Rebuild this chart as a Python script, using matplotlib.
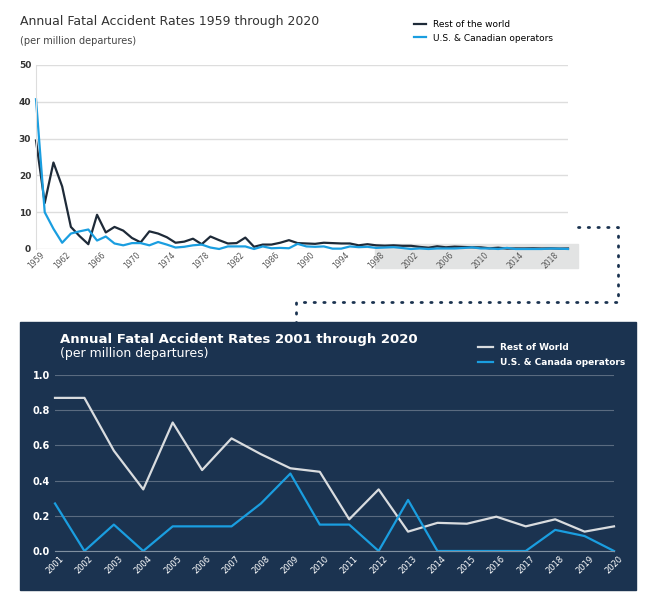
import matplotlib
matplotlib.use("Agg")
import matplotlib.pyplot as plt
from matplotlib.patches import Rectangle
from matplotlib.lines import Line2D

years_all = list(range(1959, 2021))
row_early = [29.5, 12.5, 23.5, 17, 6, 3.5, 1.3, 9.3, 4.5, 6, 5, 3, 1.8, 4.8, 4.2, 3.2, 1.7, 2, 2.8, 1.3,
             3.4, 2.4, 1.5, 1.6, 3.1, 0.6, 1.2, 1.2, 1.7, 2.4, 1.6, 1.5, 1.4, 1.7, 1.6, 1.5, 1.5, 1.0,
             1.3, 1.0, 0.9, 1.0]
us_early = [40.7, 10, 5.5, 1.7, 4.2, 4.8, 5.3, 2.3, 3.4, 1.5, 1.0, 1.6, 1.6, 1.0, 1.9, 1.2, 0.4, 0.6,
            1.0, 1.2, 0.4, 0.0, 0.7, 0.7, 0.7, 0.0, 0.7, 0.2, 0.3, 0.2, 1.4, 0.7, 0.6, 0.7, 0.1, 0.1,
            0.7, 0.5, 0.6, 0.3, 0.4, 0.5]
years_recent = list(range(2001, 2021))
row_recent = [.87, .87, .57, .35, .73, .46, .64, .55, .47, .45, .18, .35, .11, .16, .155, .195, .14, .18, .11, .14]
us_recent = [.27, 0, .15, 0, .14, .14, .14, .27, .44, .15, .15, 0, .29, 0, 0, 0, 0, .12, .085, 0]
top_ticks = [1959] + list(range(1962, 2021, 4))

DARK = "#1e2a38"
BLUE = "#1a9ee0"
NAVY = "#1b3350"

W, H = 655, 607
fig = plt.figure(figsize=(6.55, 6.07), dpi=100)
fig.patch.set_facecolor("white")

def fx(p): return p / W
def fy(p): return 1 - p / H

fig.patches.append(Rectangle((fx(375), fy(268)), fx(578) - fx(375), fy(244) - fy(268),
                             transform=fig.transFigure, color="#e2e3e3", zorder=-5))

ax = fig.add_axes([fx(36), fy(249), fx(568) - fx(36), fy(65) - fy(249)])
ax.set_facecolor("none")
ax.plot(years_all, row_early + row_recent, color=DARK, lw=1.6, label="Rest of the world", clip_on=False)
ax.plot(years_all, us_early + us_recent, color=BLUE, lw=1.6, label="U.S. & Canadian operators", clip_on=False)
ax.set_xlim(1959, 2020)
ax.set_ylim(0, 50)
ax.set_yticks([0, 10, 20, 30, 40, 50])
ax.set_xticks(top_ticks)
ax.set_xticklabels([str(t) for t in top_ticks], rotation=45, fontsize=5.5, color="#555")
ax.tick_params(axis="y", labelsize=6.5, length=0, labelcolor="#333")
ax.tick_params(axis="x", length=0, pad=1)
for l in ax.get_yticklabels(): l.set_fontweight("bold")
ax.grid(axis="y", color="#dddddd", lw=1)
for s in ["top", "right", "bottom"]: ax.spines[s].set_visible(False)
ax.spines["left"].set_color("#dddddd")
ax.set_axisbelow(True)
fig.text(fx(20), fy(22), "Annual Fatal Accident Rates 1959 through 2020", fontsize=9, color="#333", va="center")
fig.text(fx(20), fy(41), "(per million departures)", fontsize=7, color="#444", va="center")
ax.legend(loc="upper left", bbox_to_anchor=(fx(406), fy(12)), bbox_transform=fig.transFigure,
          frameon=False, fontsize=6.5, handlelength=1.3, labelspacing=0.5)

dot = dict(color=NAVY, lw=2, ls=(0, (0.5, 3)), dash_capstyle="round", transform=fig.transFigure)
fig.lines.append(Line2D([fx(578), fx(618), fx(618), fx(296), fx(296)],
                        [fy(227), fy(227), fy(302), fy(302), fy(322)], **dot))

fig.patches.append(Rectangle((fx(20), fy(590)), fx(636) - fx(20), fy(322) - fy(590),
                             transform=fig.transFigure, color=NAVY, zorder=-5))
ax2 = fig.add_axes([fx(55), fy(551), fx(614) - fx(55), fy(375) - fy(551)])
ax2.set_facecolor("none")
ax2.plot(years_recent, row_recent, color="#d9dcdf", lw=1.6, label="Rest of World", clip_on=False)
ax2.plot(years_recent, us_recent, color=BLUE, lw=1.6, label="U.S. & Canada operators", clip_on=False)
ax2.set_xlim(2001, 2020)
ax2.set_ylim(0, 1.0)
ax2.set_yticks([0, .2, .4, .6, .8, 1.0])
ax2.set_yticklabels(["0.0", "0.2", "0.4", "0.6", "0.8", "1.0"])
ax2.set_xticks(years_recent)
ax2.set_xticklabels([str(y) for y in years_recent], rotation=45, fontsize=6, color="white")
ax2.tick_params(axis="y", labelsize=7, length=0, labelcolor="white")
ax2.tick_params(axis="x", length=0, pad=2)
for l in ax2.get_yticklabels(): l.set_fontweight("bold")
ax2.grid(axis="y", color="#5a6b80", lw=0.8)
for s in ax2.spines.values(): s.set_visible(False)
ax2.spines["bottom"].set_visible(True); ax2.spines["bottom"].set_color("#8090a0")
ax2.set_axisbelow(True)
fig.text(fx(60), fy(340), "Annual Fatal Accident Rates 2001 through 2020", fontsize=9.5, color="white",
         fontweight="bold", va="center")
fig.text(fx(60), fy(354), "(per million departures)", fontsize=9, color="white", va="center")
leg = ax2.legend(loc="upper left", bbox_to_anchor=(fx(470), fy(335)), bbox_transform=fig.transFigure,
                 frameon=False, fontsize=6.5, handlelength=1.6, labelspacing=0.7)
for t in leg.get_texts():
    t.set_color("white"); t.set_fontweight("bold")

fig.savefig("out.png", dpi=100)
